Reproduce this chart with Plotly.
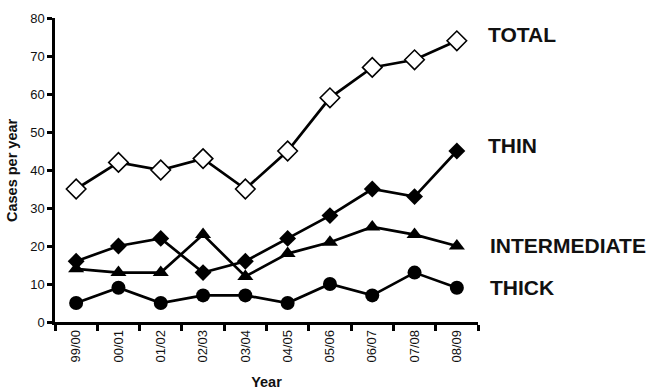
import plotly.graph_objects as go

years = ["99/00", "00/01", "01/02", "02/03", "03/04", "04/05", "05/06", "06/07", "07/08", "08/09"]
total = [35, 42, 40, 43, 35, 45, 59, 67, 69, 74]
thin = [16, 20, 22, 13, 16, 22, 28, 35, 33, 45]
intermediate = [14, 13, 13, 23, 12, 18, 21, 25, 23, 20]
thick = [5, 9, 5, 7, 7, 5, 10, 7, 13, 9]

series_labels = ["TOTAL", "THIN", "INTERMEDIATE", "THICK"]
label_y = [75.6, 46.5, 20.2, 9.1]
label_shift = [8, 8, 10, 10]

fig = go.Figure()
line = dict(color="black", width=2.7)
fig.add_trace(go.Scatter(x=years, y=thick, mode="lines+markers", line=line,
                         marker=dict(symbol="circle", size=14, color="black")))
fig.add_trace(go.Scatter(x=years, y=intermediate, mode="lines+markers", line=line,
                         marker=dict(symbol="triangle-up", size=14, color="black")))
fig.add_trace(go.Scatter(x=years, y=thin, mode="lines+markers", line=line,
                         marker=dict(symbol="diamond", size=13, color="black")))
fig.add_trace(go.Scatter(x=years, y=total, mode="lines+markers", line=line,
                         marker=dict(symbol="diamond", size=15, color="white",
                                     line=dict(color="black", width=1.6))))

for lab, yy, sh in zip(series_labels, label_y, label_shift):
    fig.add_annotation(x=9.5, y=yy, xref="x", yref="y", text="<b>" + lab + "</b>", showarrow=False,
                       xanchor="left", xshift=sh,
                       font=dict(family="Liberation Sans, Arial", size=21, color="#111"))

fig.add_annotation(x=0, y=0.5, xref="paper", yref="paper", text="<b>Cases per year</b>",
                   showarrow=False, textangle=-90, xanchor="center", yanchor="middle",
                   xshift=-43, font=dict(family="Liberation Sans, Arial", size=14.5, color="#111"))

fig.update_layout(
    width=646, height=391, showlegend=False,
    margin=dict(l=55, r=168, t=18, b=69),
    plot_bgcolor="white", paper_bgcolor="white",
    font=dict(family="Liberation Sans, Arial", color="#111"),
)
fig.update_xaxes(
    type="category", range=[-0.5, 9.5], tickangle=-90, tickson="boundaries",
    ticks="outside", ticklen=6, tickwidth=2.5, tickcolor="black",
    showline=True, linecolor="black", linewidth=2.5, showgrid=False,
    tickfont=dict(size=13), automargin=False,
    title=dict(text="<b>Year</b>", font=dict(size=14.5), standoff=16),
)
fig.update_yaxes(
    range=[0, 80], dtick=10, ticks="outside", ticklen=5, tickwidth=2.5, tickcolor="black",
    showline=True, linecolor="black", linewidth=2.5, showgrid=False, zeroline=False,
    tickfont=dict(size=13), automargin=False,
)
fig.write_html("out.html", config={"displayModeBar": False},
               post_script="document.body.style.margin='0';")
